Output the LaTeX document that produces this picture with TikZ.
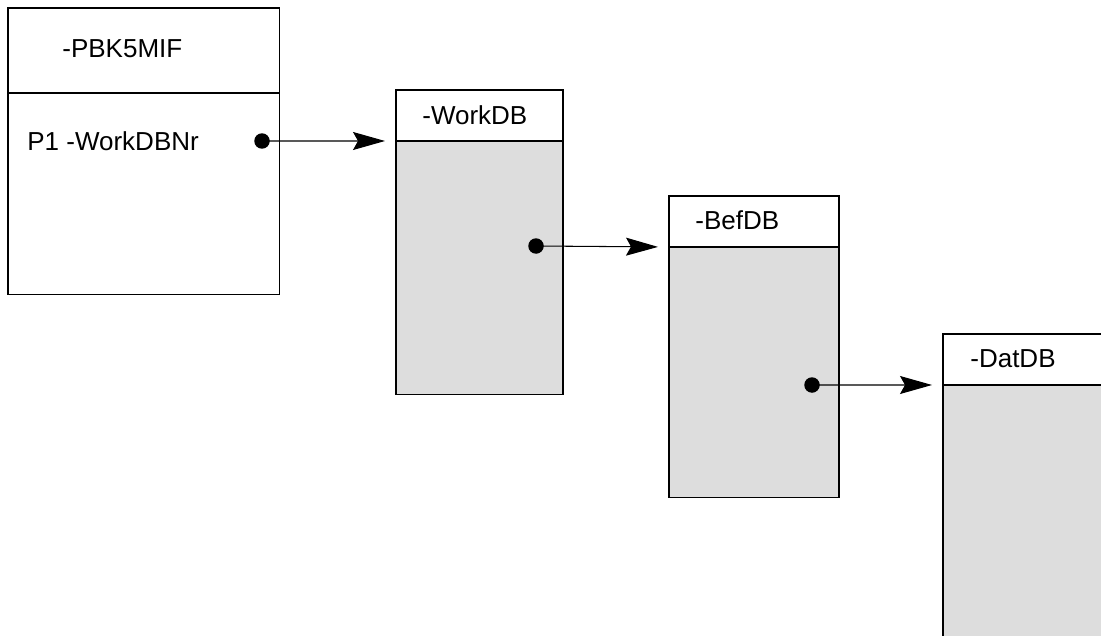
\documentclass[tikz,border=0pt]{standalone}
\usepackage{fontspec}
\setmainfont{Liberation Sans}
\usepackage{tikz}
\usetikzlibrary{arrows.meta,positioning}

\definecolor{bodygray}{HTML}{DDDDDD}

\begin{document}
\begin{tikzpicture}[
  x=0.02cm, y=-0.02cm,
  hdr/.style={rectangle,draw,fill=white,line width=0.6pt,anchor=north west,
              inner sep=0pt,outer sep=0pt},
  body/.style={rectangle,draw,fill=bodygray,line width=0.6pt,anchor=north west,
               inner sep=0pt,outer sep=0pt},
  lbl/.style={anchor=base west,inner sep=0pt,
              font=\fontsize{14.8}{18}\selectfont},
  dot/.style={circle,fill=black,inner sep=0pt,minimum size=0.31cm},
  link/.style={draw,line width=0.6pt,shorten >=0.22cm,
               -{Stealth[length=0.64cm,width=0.36cm,inset=0.1cm]}},
]
  \useasboundingbox (0,0) rectangle (1101,635);

  % first box
  \node[hdr,minimum width=5.44cm,minimum height=1.70cm] (pbk) at (8,8) {};
  \node[hdr,minimum width=5.44cm,minimum height=4.04cm]
       (pbkbody) at (pbk.south west) {};
  \node[lbl] (pbktxt) at (62,58) {-PBK5MIF};
  \node[lbl] (p1txt) at (27,150) {P1 -WorkDBNr};
  \node[dot] (dot1) at (262,141) {};

  % WorkDB
  \node[hdr,minimum width=3.34cm,minimum height=1.02cm] (workdb) at (396,90) {};
  \node[body,minimum width=3.34cm,minimum height=5.08cm] (workdbbody)
       at (workdb.south west) {};
  \node[lbl] (workdbtxt) at (422,124) {-WorkDB};
  \node[dot] (dot2) at (536,246) {};

  % BefDB
  \node[hdr,minimum width=3.40cm,minimum height=1.02cm] (befdb) at (669,196) {};
  \node[body,minimum width=3.40cm,minimum height=5.02cm] (befdbbody)
       at (befdb.south west) {};
  \node[lbl] (befdbtxt) at (695,229) {-BefDB};
  \node[dot] (dot3) at (812,385) {};

  % DatDB
  \node[hdr,minimum width=3.40cm,minimum height=1.02cm] (datdb) at (943,334) {};
  \node[body,minimum width=3.40cm,minimum height=5.08cm] (datdbbody)
       at (datdb.south west) {};
  \node[lbl] (datdbtxt) at (970,367) {-DatDB};

  \draw[link] (dot1.center) -- (workdb.south west);
  \draw[link] (dot2.center) -- (befdb.south west);
  \draw[link] (dot3.center) -- (datdb.south west);
\end{tikzpicture}
\end{document}
